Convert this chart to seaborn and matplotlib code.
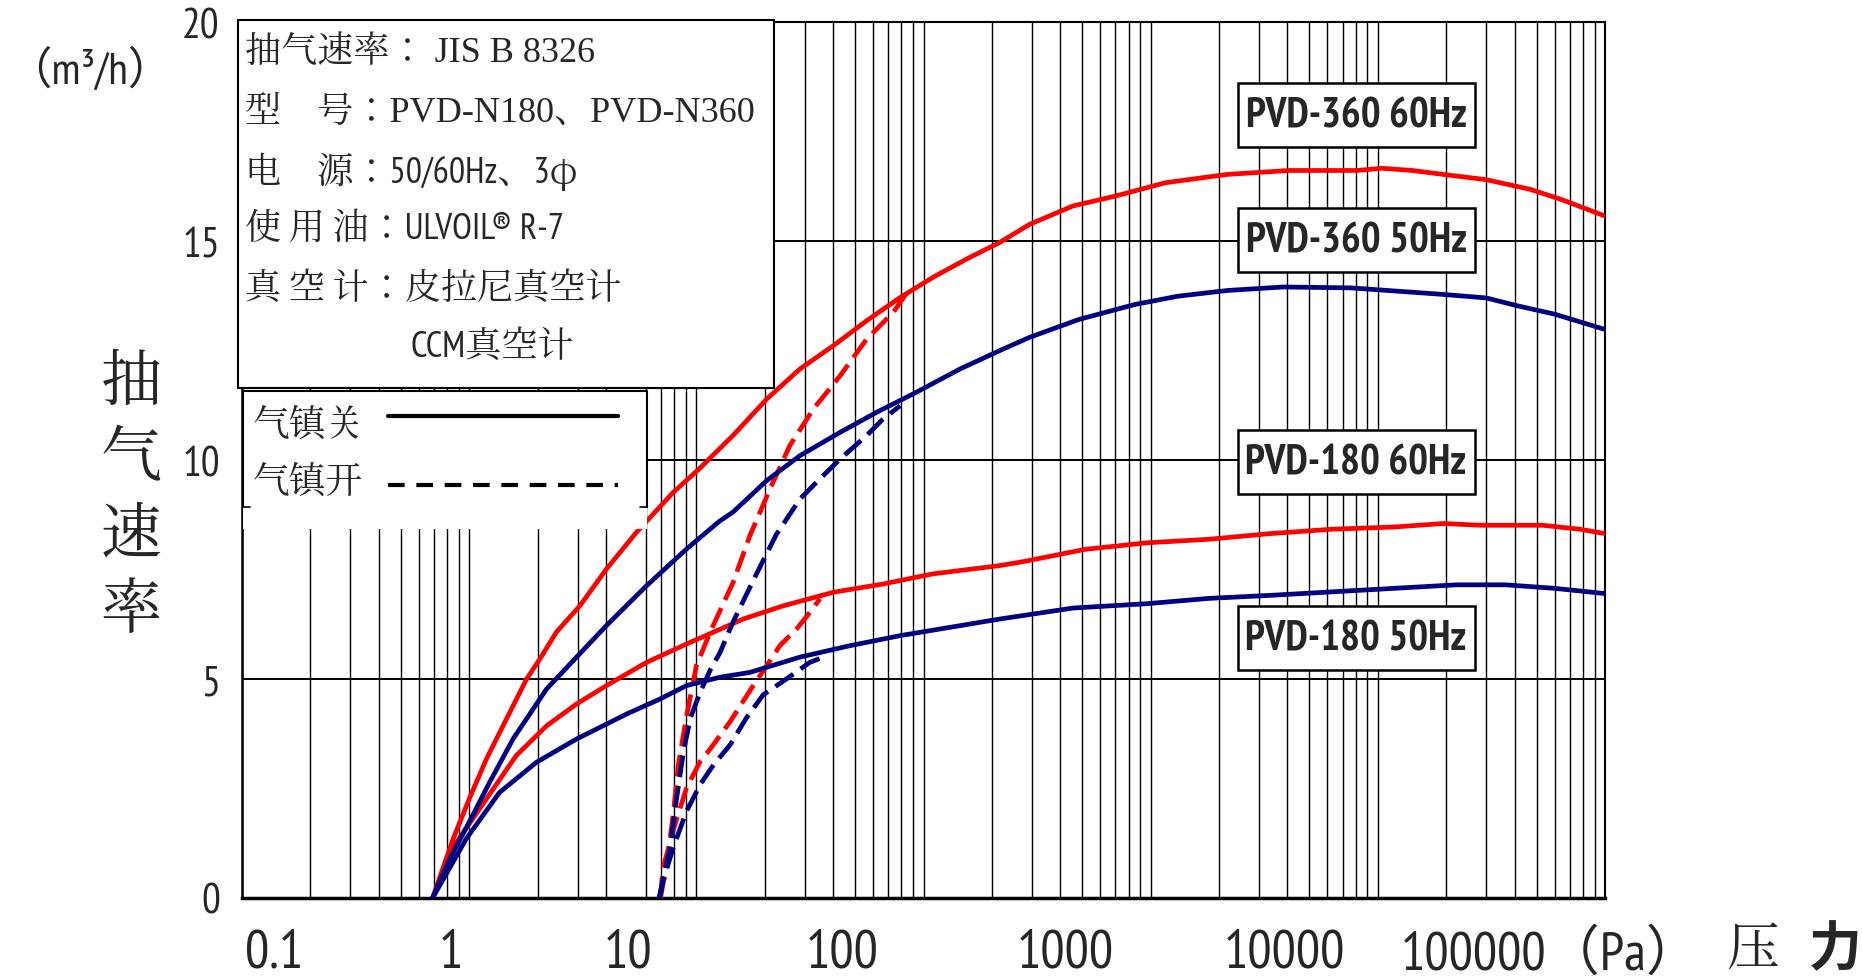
import numpy as np
import pandas as pd
import matplotlib
matplotlib.use('Agg')
import matplotlib.pyplot as plt
import seaborn as sns
from matplotlib import ticker
from matplotlib.patches import Rectangle
from matplotlib.lines import Line2D

# pumping speed curves: pressure (Pa) -> speed (m3/h)
p360_60_off = [0.69, 0.85, 1.0, 1.19, 1.46, 1.79, 2.05, 2.42, 3.07, 4.02, 5.45, 7.91, 10.4, 14.5, 20.4, 28.6,
               40.1, 56.2, 78.9, 110, 155, 217, 293, 455, 705, 1160, 2170, 4070, 8100, 10400, 14200, 19400,
               30000, 46800, 64000, 100000]
s360_60_off = [0, 1.35, 2.26, 3.17, 4.09, 5.0, 5.46, 6.07, 6.67, 7.51, 8.35, 9.26, 9.82, 10.56, 11.39, 12.08,
               12.61, 13.18, 13.71, 14.17, 14.59, 14.97, 15.38, 15.8, 16.03, 16.33, 16.52, 16.61, 16.61, 16.66,
               16.61, 16.52, 16.4, 16.18, 15.95, 15.57]

p360_50_off = [0.69, 0.82, 1.0, 1.23, 1.56, 2.19, 2.97, 4.02, 6.04, 9.06, 12.7, 14.5, 20.4, 28.6, 42.9, 62.2,
               93.3, 145, 217, 293, 484, 851, 1318, 2173, 3820, 7600, 11800, 19400, 30000, 41200, 60000, 100000]
s360_50_off = [0, 0.89, 1.73, 2.64, 3.63, 4.77, 5.5, 6.22, 7.13, 7.97, 8.61, 8.81, 9.53, 10.1, 10.63, 11.09,
               11.55, 12.08, 12.5, 12.8, 13.21, 13.55, 13.74, 13.87, 13.95, 13.93, 13.86, 13.78, 13.7, 13.52,
               13.33, 12.98]

p180_60_off = [0.69, 0.88, 1.19, 1.61, 2.19, 2.97, 4.02, 6.04, 9.06, 11.9, 16.1, 24.1, 40.1, 66.5, 110, 217,
               275, 514, 966, 1800, 3370, 6300, 11800, 19400, 28300, 53000, 77300, 100000]
s180_60_off = [0, 1.27, 2.26, 3.25, 3.93, 4.43, 4.85, 5.38, 5.8, 6.07, 6.37, 6.67, 6.98, 7.17, 7.4, 7.59,
               7.68, 7.96, 8.11, 8.19, 8.32, 8.42, 8.47, 8.55, 8.51, 8.51, 8.42, 8.32]

p180_50_off = [0.69, 0.97, 1.36, 1.98, 2.97, 4.02, 4.93, 6.9, 9.06, 12.7, 17.2, 28.6, 47.4, 78.9, 131, 217,
               455, 966, 1800, 3370, 6300, 11800, 22100, 36500, 60000, 100000]
s180_50_off = [0, 1.35, 2.41, 3.1, 3.63, 3.97, 4.2, 4.54, 4.85, 5.04, 5.15, 5.5, 5.76, 5.99, 6.18, 6.37,
               6.62, 6.72, 6.84, 6.91, 6.99, 7.07, 7.15, 7.15, 7.07, 6.95]

# gas ballast open
p360_60_on = [6.95, 7.39, 7.9, 8.32, 9.06, 10.0, 11.5, 14.5, 17.2, 21.1, 25.8, 32.7, 42.9, 56.2, 73.6, 84]
s360_60_on = [0, 0.74, 1.88, 3.02, 4.16, 5.3, 6.07, 7.2, 8.27, 9.34, 10.33, 11.16, 11.92, 12.76, 13.37, 13.8]

p360_50_on = [6.85, 7.64, 8.18, 8.75, 9.4, 10.4, 11.5, 12.7, 14.5, 18.4, 22.5, 28.6, 35, 42.9, 56.2, 65.6, 78.9]
s360_50_on = [0, 1.12, 2.26, 3.3, 4.1, 4.7, 5.2, 5.6, 6.3, 7.4, 8.3, 9.11, 9.57, 10.02, 10.56, 10.91, 11.24]

p180_60_on = [6.95, 7.13, 8.04, 9.05, 10.4, 11.5, 14.1, 17.5, 20.4, 23.3, 27.6, 31.6, 35]
s180_60_on = [0, 0.68, 1.67, 2.51, 3.12, 3.4, 4.03, 4.79, 5.3, 5.76, 6.14, 6.52, 6.83]

p180_50_on = [6.9, 7.13, 7.9, 9.05, 10.4, 11.9, 14.1, 16.6, 19.7, 24.9, 31.6, 37.5]
s180_50_on = [0, 0.38, 1.14, 1.98, 2.59, 3.04, 3.5, 4.11, 4.64, 5.0, 5.38, 5.53]

# tick labels sit where the original chart prints them
x_label_pos = [0.139, 0.83, 5.0, 43.8, 420, 3870, 57500]
x_labels = ["0.1", "1", "10", "100", "1000", "10000", "100000（Pa）"]
y_ticks = [0, 5, 10, 15, 20]

curve_names = ["PVD-360 60Hz", "PVD-360 50Hz", "PVD-180 60Hz", "PVD-180 50Hz"]
info_lines = ["抽气速率： JIS B 8326", "型\u3000号：PVD-N180、PVD-N360", "电\u3000源：50/60Hz、3φ",
              "使 用 油：ULVOIL® R-7", "真 空 计：皮拉尼真空计", "CCM真空计"]
legend_labels = ["气镇关", "气镇开"]

RED = '#ff0000'
NAVY = '#000080'
NARROW = ['PT Sans Narrow', 'Noto Serif CJK JP', 'Noto Sans CJK SC', 'DejaVu Sans']
NARROW_SANS = ['PT Sans Narrow', 'Noto Sans CJK SC', 'DejaVu Sans']
SERIF = ['Liberation Serif', 'Noto Serif CJK JP', 'Noto Sans CJK SC', 'DejaVu Sans']
SONG = ['Noto Serif CJK JP', 'Noto Sans CJK SC', 'DejaVu Sans']
HEI = ['Noto Sans CJK SC', 'DejaVu Sans']


def to_frame(p, s, model, freq, ballast):
    return pd.DataFrame({'P': p, 'S': s, 'curve': f'{model} {freq} {ballast}',
                         'freq': freq, 'ballast': ballast})


df = pd.concat([
    to_frame(p360_60_off, s360_60_off, 'PVD-360', '60Hz', 'off'),
    to_frame(p360_50_off, s360_50_off, 'PVD-360', '50Hz', 'off'),
    to_frame(p180_60_off, s180_60_off, 'PVD-180', '60Hz', 'off'),
    to_frame(p180_50_off, s180_50_off, 'PVD-180', '50Hz', 'off'),
    to_frame(p360_60_on, s360_60_on, 'PVD-360', '60Hz', 'on'),
    to_frame(p360_50_on, s360_50_on, 'PVD-360', '50Hz', 'on'),
    to_frame(p180_60_on, s180_60_on, 'PVD-180', '60Hz', 'on'),
    to_frame(p180_50_on, s180_50_on, 'PVD-180', '50Hz', 'on'),
], ignore_index=True)

sns.set_style('white')
plt.rcParams['font.family'] = NARROW_SANS

W, H = 1862, 979
fig = plt.figure(figsize=(W / 100, H / 100), dpi=100)
ax = fig.add_axes([242 / W, 1 - 899 / H, (1605 - 242) / W, (899 - 23) / H])
ax.set_xscale('log')

sns.lineplot(data=df, x='P', y='S', hue='freq', style='ballast', units='curve', estimator=None, sort=False,
             palette={'60Hz': RED, '50Hz': NAVY}, dashes={'off': '', 'on': (4.6, 1.9)},
             lw=3.4, legend=False, ax=ax, zorder=3)

ax.set_xlim(0.1, 1e5)
ax.set_ylim(0, 20)
ax.set_xlabel('')
ax.set_ylabel('')
ax.xaxis.set_minor_locator(ticker.LogLocator(base=10, subs=np.arange(1, 10), numticks=60))
ax.xaxis.set_minor_formatter(ticker.NullFormatter())
ax.set_xticks(x_label_pos, x_labels)
ax.set_yticks(y_ticks)
ax.tick_params(axis='x', which='both', length=0, pad=22, labelsize=39)
ax.tick_params(axis='y', which='both', length=0, pad=16, labelsize=30)
ax.grid(False)
ax.grid(True, which='minor', axis='x', color='black', lw=1.0)
ax.grid(True, which='major', axis='y', color='black', lw=1.4)
for side, w in [('left', 1.8), ('right', 1.5), ('top', 1.5), ('bottom', 2.5)]:
    ax.spines[side].set_color('black')
    ax.spines[side].set_linewidth(w)

# overlay in pixel units for boxes and free text
ov = fig.add_axes([0, 0, 1, 1], zorder=5)
ov.set_xlim(0, W)
ov.set_ylim(H, 0)
ov.axis('off')
ov.patch.set_alpha(0)

# info box
ov.add_patch(Rectangle((238, 21), 536, 368, facecolor='white', edgecolor='black', lw=1.5))
info_y = [53, 113, 172, 229, 288, 346]
for i, (txt, yy) in enumerate(zip(info_lines, info_y)):
    fam = SERIF if i < 2 else NARROW
    xx = 411 if i == 5 else 245
    ov.text(xx, yy, txt, family=fam, fontsize=26, va='center', ha='left')

# legend box (open at the bottom)
ov.add_patch(Rectangle((243, 391), 404, 139, facecolor='white', edgecolor='none'))
ov.add_line(Line2D([243, 243, 647, 647], [508, 392, 392, 508], color='black', lw=1.5))
ov.add_line(Line2D([243, 250], [508, 508], color='black', lw=1.2))
ov.add_line(Line2D([640, 647], [508, 508], color='black', lw=1.2))
ov.add_line(Line2D([388, 618], [417, 417], color='black', lw=3))
ov.add_line(Line2D([388, 618], [486, 486], color='black', lw=3, dashes=(4, 2.8)))
ov.text(253, 425, legend_labels[0], family=SONG, fontsize=26.5, va='center', ha='left')
ov.text(253, 482, legend_labels[1], family=SONG, fontsize=26.5, va='center', ha='left')

# curve name boxes
for name, yy in zip(curve_names, [116, 241, 463, 639]):
    ov.add_patch(Rectangle((1238, yy - 32), 237, 64, facecolor='white', edgecolor='black', lw=1.8))
    ov.text(1356, yy + 1, name, family=NARROW_SANS, fontsize=30, fontweight='bold', va='center', ha='center')

# axis titles
ov.text(90, 71, "（m³/h）", family=NARROW_SANS, fontsize=32, va='center', ha='center')
ov.text(131, 497, "抽\n气\n速\n率", family=SONG, fontsize=44, va='center', ha='center', linespacing=1.2)
ov.text(1752, 950, "压", family=SONG, fontsize=38, va='center', ha='center')
ov.text(1835, 950, "力", family=HEI, fontsize=38, fontweight='bold', va='center', ha='center')

fig.savefig('out.png', dpi=100)
